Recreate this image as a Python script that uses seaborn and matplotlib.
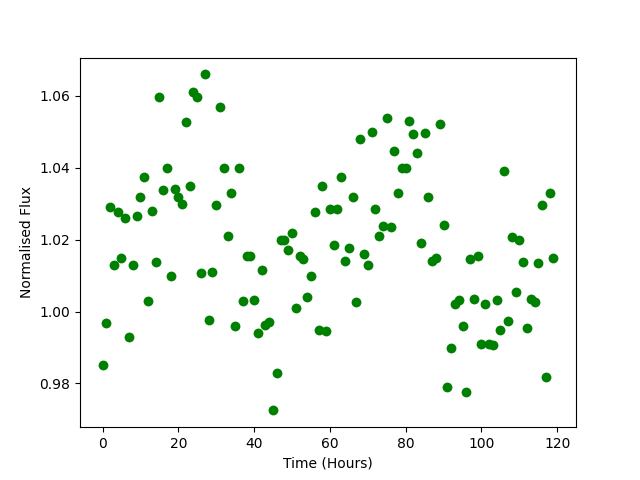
import numpy as np
import pandas as pd
import seaborn as sns
import matplotlib
matplotlib.use("Agg")
import matplotlib.pyplot as plt

# time in hours, one reading per hour
hours = list(range(120))

# normalised flux
flux = [
    0.9850, 0.9967, 1.0290, 1.0130, 1.0277, 1.0150, 1.0260, 0.9930, 1.0130, 1.0267,
    1.0320, 1.0375, 1.0030, 1.0280, 1.0137, 1.0597, 1.0337, 1.0400, 1.0100, 1.0340,
    1.0320, 1.0300, 1.0527, 1.0350, 1.0610, 1.0597, 1.0106, 1.0660, 0.9977, 1.0110,
    1.0296, 1.0570, 1.0400, 1.0210, 1.0330, 0.9960, 1.0400, 1.0030, 1.0155, 1.0155,
    1.0033, 0.9940, 1.0115, 0.9964, 0.9970, 0.9725, 0.9830, 1.0198, 1.0198, 1.0170,
    1.0218, 1.0010, 1.0155, 1.0146, 1.0040, 1.0100, 1.0277, 0.9950, 1.0350, 0.9945,
    1.0285, 1.0185, 1.0285, 1.0374, 1.0140, 1.0176, 1.0320, 1.0026, 1.0480, 1.0160,
    1.0130, 1.0500, 1.0285, 1.0210, 1.0237, 1.0540, 1.0235, 1.0447, 1.0330, 1.0400,
    1.0400, 1.0530, 1.0494, 1.0440, 1.0190, 1.0497, 1.0318, 1.0140, 1.0148, 1.0522,
    1.0240, 0.9790, 0.9900, 1.0020, 1.0033, 0.9960, 0.9775, 1.0146, 1.0036, 1.0155,
    0.9909, 1.0020, 0.9910, 0.9906, 1.0033, 0.9948, 1.0390, 0.9973, 1.0207, 1.0054,
    1.0200, 1.0137, 0.9955, 1.0036, 1.0026, 1.0134, 1.0296, 0.9817, 1.0330, 1.0148,
]

df = pd.DataFrame({"Time": hours, "Flux": flux})

fig, ax = plt.subplots(figsize=(6.4, 4.8), dpi=100)
sns.scatterplot(data=df, x="Time", y="Flux", color="green", s=50, linewidth=0, ax=ax)
ax.set_xlabel("Time (Hours)")
ax.set_ylabel("Normalised Flux")

fig.savefig("out.png", dpi=100)
